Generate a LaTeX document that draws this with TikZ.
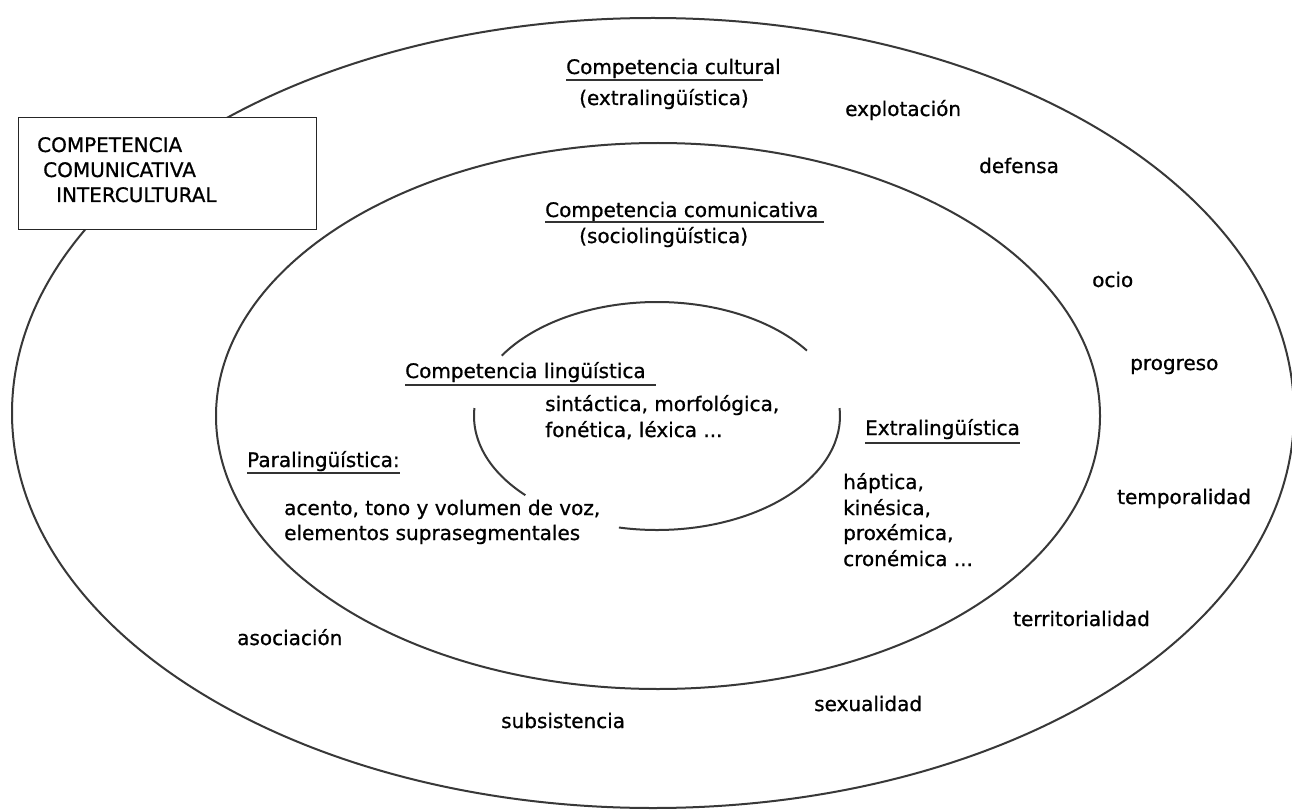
\documentclass[tikz,border=0pt]{standalone}
\usepackage{fontspec}
\setmainfont{DejaVu Sans}[FakeBold=0.8]
\begin{document}
\begin{tikzpicture}[x=1pt,y=-1pt,
  ring/.style={draw=black!78, line width=2pt},
  lbl/.style={anchor=base west, inner sep=0pt, font=\fontsize{20}{24}\selectfont},
  uline/.style={draw=black!80, line width=1.6pt},
  titlebox/.style={draw=black!85, line width=1.4pt, fill=white, anchor=north west, minimum width=298pt, minimum height=112pt, inner sep=0pt}]
\useasboundingbox (0,0) rectangle (1292,810);
\clip (0,0) rectangle (1292,810);
\fill[white] (0,0) rectangle (1292,810);
% rings
\coordinate (oc) at (653,413);
\coordinate (mc) at (658,416);
\coordinate (ic) at (657,416);
\draw[ring] (oc) ellipse [x radius=641pt, y radius=395pt];
\draw[ring] (mc) ellipse [x radius=442pt, y radius=273pt];
\draw[ring] (ic) ++(35:183pt and 114pt) arc[start angle=35, end angle=148, x radius=183pt, y radius=114pt];
\draw[ring] (ic) ++(176:183pt and 114pt) arc[start angle=176, end angle=224, x radius=183pt, y radius=114pt];
\draw[ring] (ic) ++(-102:183pt and 114pt) arc[start angle=-102, end angle=4, x radius=183pt, y radius=114pt];
% title box
\node[titlebox] (box) at (18,117) {};
\node[lbl] (b1) at (37,152) {COMPETENCIA};
\node[lbl] (b2) at (43,177) {COMUNICATIVA};
\node[lbl] (b3) at (56,202) {INTERCULTURAL};
% outer ring labels
\node[lbl] (cc) at (566,74) {Competencia cultural};
\draw[uline] ([yshift=-6pt]cc.base west) -- ([yshift=-6pt,xshift=-18pt]cc.base east);
\node[lbl] (ce) at (579,105) {(extralingüística)};
\node[lbl] (o1) at (845,116) {explotación};
\node[lbl] (o2) at (979,173) {defensa};
\node[lbl] (o3) at (1092,287) {ocio};
\node[lbl] (o4) at (1130,370) {progreso};
\node[lbl] (o5) at (1117,504) {temporalidad};
\node[lbl] (o6) at (1013,626) {territorialidad};
\node[lbl] (o7) at (814,711) {sexualidad};
\node[lbl] (o8) at (501,728) {subsistencia};
\node[lbl] (o9) at (237,645) {asociación};
% middle ring labels
\node[lbl] (cm) at (545,217) {Competencia comunicativa};
\draw[uline] ([yshift=-5pt]cm.base west) -- ([yshift=-5pt,xshift=6pt]cm.base east);
\node[lbl] (cs) at (579,243) {(sociolingüística)};
\node[lbl] (pl) at (247,467) {Paralingüística:};
\draw[uline] ([yshift=-6pt]pl.base west) -- ([yshift=-6pt]pl.base east);
\node[lbl] (p1) at (284,515) {acento, tono y volumen de voz,};
\node[lbl] (p2) at (284,540) {elementos suprasegmentales};
\node[lbl] (el) at (865,435) {Extralingüística};
\draw[uline] ([yshift=-8pt]el.base west) -- ([yshift=-8pt]el.base east);
\node[lbl] (e1) at (843,489) {háptica,};
\node[lbl] (e2) at (843,515) {kinésica,};
\node[lbl] (e3) at (843,540) {proxémica,};
\node[lbl] (e4) at (843,566) {cronémica ...};
% inner labels
\node[lbl] (cl) at (405,378) {Competencia lingüística};
\draw[uline] ([yshift=-7pt]cl.base west) -- ([yshift=-7pt,xshift=10pt]cl.base east);
\node[lbl] (l1) at (545,411) {sintáctica, morfológica,};
\node[lbl] (l2) at (545,437) {fonética, léxica ...};
\end{tikzpicture}
\end{document}
